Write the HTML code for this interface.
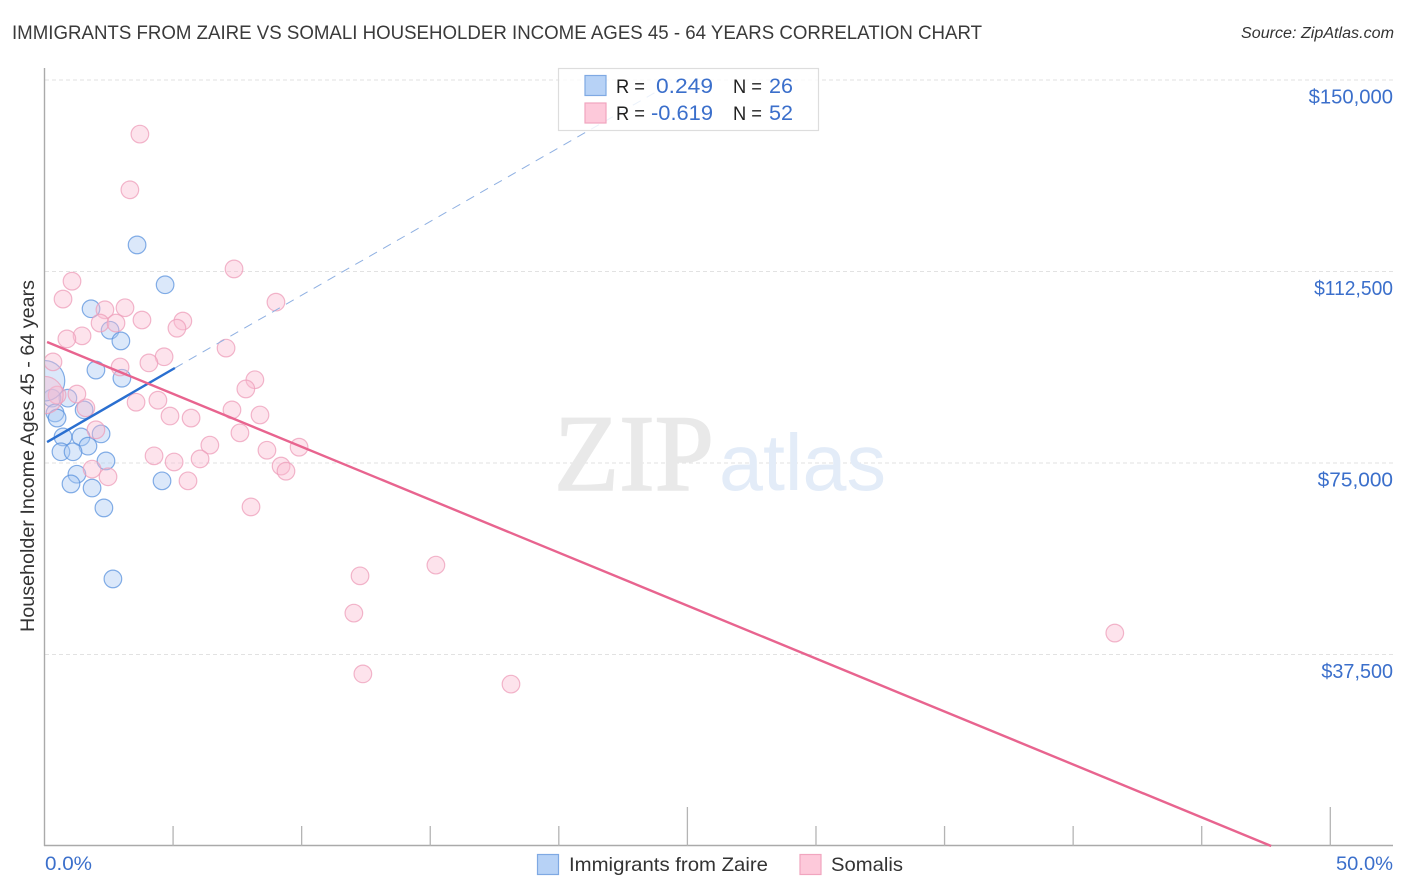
<!DOCTYPE html>
<html lang="en">
<head>
<meta charset="utf-8">
<title>Immigrants from Zaire vs Somali Householder Income Chart</title>
<style>
html,body{margin:0;padding:0;background:#fff;}
body{width:1406px;height:892px;overflow:hidden;}
svg{display:block;font-family:"Liberation Sans",sans-serif;}
</style>
</head>
<body>
<svg id="chart" width="1406" height="892" viewBox="0 0 1406 892" xmlns="http://www.w3.org/2000/svg">
  <defs>
    <clipPath id="plot-clip"><rect x="45" y="68" width="1350" height="778"/></clipPath>
  </defs>
  <rect width="1406" height="892" fill="#ffffff"/>
  <text x="12" y="39" font-size="19.5" fill="#3a3a3a" textLength="970" lengthAdjust="spacingAndGlyphs">IMMIGRANTS FROM ZAIRE VS SOMALI HOUSEHOLDER INCOME AGES 45 - 64 YEARS CORRELATION CHART</text>
  <text x="1241" y="38" font-size="15.5" font-style="italic" fill="#333333" textLength="153" lengthAdjust="spacingAndGlyphs">Source: ZipAtlas.com</text>
  <g id="grid"></g>
  <g>
    <text x="554" y="490" font-family="'Liberation Serif',serif" font-size="109" fill="#e9e9e9" stroke="#e9e9e9" stroke-width="1.6" textLength="160" lengthAdjust="spacingAndGlyphs">ZIP</text>
    <text x="719" y="490" font-size="80" fill="#e3ecf8" textLength="167" lengthAdjust="spacingAndGlyphs">atlas</text>
  </g>
  <g id="axes"></g>
  <g id="points" clip-path="url(#plot-clip)"></g>
  <g id="trends"></g>
  <g id="ylabels"></g>
  <text transform="translate(34,456) rotate(-90)" text-anchor="middle" font-size="19.5" fill="#333333" textLength="352" lengthAdjust="spacingAndGlyphs">Householder Income Ages 45 - 64 years</text>
  <text x="45" y="870" font-size="19.5" fill="#3b6fcb" textLength="47" lengthAdjust="spacingAndGlyphs">0.0%</text>
  <text x="1336" y="870" font-size="19.5" fill="#3b6fcb" textLength="57" lengthAdjust="spacingAndGlyphs">50.0%</text>

  <g id="stats-legend">
    <rect x="558.5" y="68.5" width="260" height="62" fill="#ffffff" fill-opacity="0.82" stroke="#dddddd" stroke-width="1.2"/>
    <rect x="585" y="75.5" width="21" height="20" fill="#b7d2f6" stroke="#7fa9e3" stroke-width="1.2"/>
    <rect x="585" y="103" width="21" height="20" fill="#fdc9da" stroke="#f1a5bf" stroke-width="1.2"/>
    <text x="616" y="93" font-size="19.5" fill="#222222" textLength="29" lengthAdjust="spacingAndGlyphs">R =</text>
    <text x="656" y="93" font-size="21" fill="#3b6fcb" textLength="57" lengthAdjust="spacingAndGlyphs">0.249</text>
    <text x="733" y="93" font-size="19.5" fill="#222222" textLength="29" lengthAdjust="spacingAndGlyphs">N =</text>
    <text x="769" y="93" font-size="21" fill="#3b6fcb" textLength="24" lengthAdjust="spacingAndGlyphs">26</text>
    <text x="616" y="120" font-size="19.5" fill="#222222" textLength="29" lengthAdjust="spacingAndGlyphs">R =</text>
    <text x="651" y="120" font-size="21" fill="#3b6fcb" textLength="62" lengthAdjust="spacingAndGlyphs">-0.619</text>
    <text x="733" y="120" font-size="19.5" fill="#222222" textLength="29" lengthAdjust="spacingAndGlyphs">N =</text>
    <text x="769" y="120" font-size="21" fill="#3b6fcb" textLength="24" lengthAdjust="spacingAndGlyphs">52</text>
  </g>

  <g>
    <rect x="537.5" y="854.5" width="21" height="20" fill="#b7d2f6" stroke="#7fa9e3" stroke-width="1.2"/>
    <text x="569" y="871" font-size="19.5" fill="#333333" textLength="199" lengthAdjust="spacingAndGlyphs">Immigrants from Zaire</text>
    <rect x="800" y="854.5" width="21" height="20" fill="#fdc9da" stroke="#f1a5bf" stroke-width="1.2"/>
    <text x="831" y="871" font-size="19.5" fill="#333333" textLength="72" lengthAdjust="spacingAndGlyphs">Somalis</text>
  </g>
</svg>
<script>
const yTickValues = [37500, 75000, 112500, 150000];
const yTickLabels = ["$37,500", "$75,000", "$112,500", "$150,000"];
const xTickValues = [5, 10, 15, 20, 25, 30, 35, 40, 45, 50];
const xMajorTicks = [25, 50];

const zaireX = [3.60, 4.69, 1.81, 2.55, 2.97, 2.00, 3.01, 0.91, 1.54, 0.29, 0.41, 0.49, 2.20, 0.72, 1.42, 1.69, 0.64, 1.11, 2.39, 1.26, 1.03, 1.85, 4.57, 2.31, 2.66, 0];
const zaireY = [117700, 109900, 105200, 101000, 98900, 93200, 91600, 87700, 85400, 87700, 84800, 83800, 80700, 80100, 80100, 78300, 77200, 77200, 75400, 72800, 70900, 70100, 71500, 66200, 52300, 91100];
const zaireWeight = [1, 1, 1, 1, 1, 1, 1, 1, 1, 1, 1, 1, 1, 1, 1, 1, 1, 1, 1, 1, 1, 1, 1, 1, 1, 5.3];

const somaliX = [3.71, 3.32, 7.37, 1.07, 0.72, 9.00, 2.35, 3.13, 2.16, 2.78, 3.79, 5.38, 5.15, 1.46, 0.87, 7.06, 0.33, 2.94, 4.65, 4.06, 8.18, 7.83, 1.26, 0.49, 1.61, 3.56, 4.41, 4.88, 5.70, 7.29, 8.38, 7.60, 2.00, 6.43, 8.65, 4.26, 6.05, 5.04, 9.20, 9.39, 9.90, 1.85, 2.47, 5.58, 8.03, 12.27, 15.22, 12.03, 41.62, 12.38, 18.14, 0];
const somaliY = [139400, 128500, 113000, 110600, 107100, 106500, 105000, 105400, 102400, 102400, 103000, 102800, 101400, 99900, 99300, 97500, 94800, 93800, 95800, 94600, 91300, 89500, 88500, 88300, 85800, 86900, 87300, 84200, 83800, 85400, 84400, 80900, 81500, 78500, 77500, 76400, 75800, 75200, 74400, 73400, 78100, 73800, 72300, 71500, 66400, 52900, 55000, 45600, 41700, 33700, 31700, 88300];
const somaliWeight = [1, 1, 1, 1, 1, 1, 1, 1, 1, 1, 1, 1, 1, 1, 1, 1, 1, 1, 1, 1, 1, 1, 1, 1, 1, 1, 1, 1, 1, 1, 1, 1, 1, 1, 1, 1, 1, 1, 1, 1, 1, 1, 1, 1, 1, 1, 1, 1, 1, 1, 1, 4.5];

const zaireTrendX = [0.1, 5.07];
const zaireTrendY = [79100, 93600];
const zaireProjectionX = [5.07, 24];
const zaireProjectionY = [93600, 148300];
const somaliTrendX = [0.1, 47.7];
const somaliTrendY = [98700, 0];

const NS = "http://www.w3.org/2000/svg";
function sx(v) { return 44.5 + v * 25.716; }
function sy(v) { return 846 - v * 191.5 / 37500; }
function labelWidth(text) {
  const widths = { "1": 6.8, "3": 8.5, "7": 10, ",": 5, "$": 11.5 };
  let total = 0;
  for (const ch of text) total += widths[ch] || 12.2;
  return total;
}
function make(tag, attrs) {
  const el = document.createElementNS(NS, tag);
  for (const k in attrs) el.setAttribute(k, attrs[k]);
  return el;
}

const grid = document.getElementById("grid");
yTickValues.forEach(function (v) {
  const line = make("line", { x1: 45, x2: 1393, y1: sy(v), y2: sy(v), stroke: "#e2e2e2", "stroke-width": 1, "stroke-dasharray": "4 3" });
  
  
  grid.appendChild(line);
});

const axes = document.getElementById("axes");
const yAxisLine = make("line", { x1: 44.5, x2: 44.5, y1: 68, y2: 846, stroke: "#aaaaaa", "stroke-width": 1.4 });


axes.appendChild(yAxisLine);
const xAxisLine = make("line", { x1: 44, x2: 1393, y1: 845.5, y2: 845.5, stroke: "#aaaaaa", "stroke-width": 1.4 });


axes.appendChild(xAxisLine);
xTickValues.forEach(function (v) {
  const top = xMajorTicks.indexOf(v) >= 0 ? 807 : 826;
  const tick = make("line", { x1: sx(v), x2: sx(v), y1: top, y2: 846, stroke: "#b4b4b4", "stroke-width": 1.3 });
  
  
  axes.appendChild(tick);
});

const ylabels = document.getElementById("ylabels");
yTickValues.forEach(function (v, i) {
  const label = make("text", { x: 1393, y: sy(v) + 23.5, "text-anchor": "end", "font-size": 20, fill: "#3b6fcb", textLength: labelWidth(yTickLabels[i]), lengthAdjust: "spacingAndGlyphs" });
  
  
  label.textContent = yTickLabels[i];
  ylabels.appendChild(label);
});

const points = document.getElementById("points");
zaireX.forEach(function (v, i) {
  const dot = make("circle", { cx: sx(v), cy: sy(zaireY[i]), r: 8.8 * Math.sqrt(zaireWeight[i]), fill: "#a9c8f2", "fill-opacity": 0.42, stroke: "#5b93de", "stroke-opacity": 0.75, "stroke-width": 1.2 });
  
  
  points.appendChild(dot);
});
somaliX.forEach(function (v, i) {
  const dot = make("circle", { cx: sx(v), cy: sy(somaliY[i]), r: 8.8 * Math.sqrt(somaliWeight[i]), fill: "#fbbdd2", "fill-opacity": 0.42, stroke: "#ee9dba", "stroke-opacity": 0.75, "stroke-width": 1.2 });
  
  
  points.appendChild(dot);
});

const trends = document.getElementById("trends");
const projection = make("line", { x1: sx(zaireProjectionX[0]), y1: sy(zaireProjectionY[0]), x2: sx(zaireProjectionX[1]), y2: sy(zaireProjectionY[1]), stroke: "#8fb0e2", "stroke-width": 1, "stroke-dasharray": "9 7" });


trends.appendChild(projection);
const zaireTrend = make("line", { x1: sx(zaireTrendX[0]), y1: sy(zaireTrendY[0]), x2: sx(zaireTrendX[1]), y2: sy(zaireTrendY[1]), stroke: "#2a6fd0", "stroke-width": 2.4 });


trends.appendChild(zaireTrend);
const somaliTrend = make("line", { x1: sx(somaliTrendX[0]), y1: sy(somaliTrendY[0]), x2: sx(somaliTrendX[1]), y2: sy(somaliTrendY[1]), stroke: "#e8648f", "stroke-width": 2.4 });


trends.appendChild(somaliTrend);

// Keep the stats legend above the projection line, as in the chart.
const svg = document.getElementById("chart");
svg.appendChild(document.getElementById("stats-legend"));
</script>
</body>
</html>
